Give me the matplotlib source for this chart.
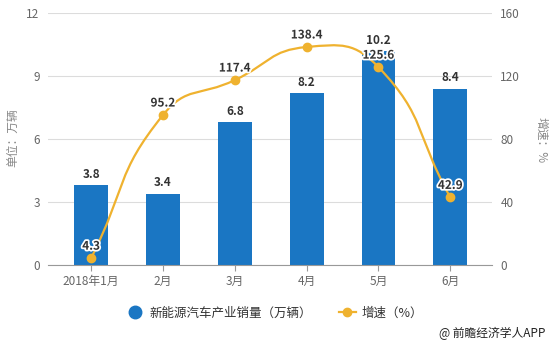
import numpy as np
import matplotlib
matplotlib.use("Agg")
import matplotlib.pyplot as plt
from matplotlib.path import Path
from matplotlib.patches import PathPatch
from matplotlib.lines import Line2D
import matplotlib.patheffects as pe

plt.rcParams['font.family'] = ['Noto Sans CJK SC', 'DejaVu Sans']

months = ["2018年1月", "2月", "3月", "4月", "5月", "6月"]
sales = [3.8, 3.4, 6.8, 8.2, 10.2, 8.4]       # 万辆
growth = [4.3, 95.2, 117.4, 138.4, 125.6, 42.9]  # %

bar_color = "#1a76c3"
line_color = "#efb22f"
text_gray = "#666666"


def smooth_path(ax, xs, ys, smooth=0.5):
    # echarts-like bezier smoothing, done in pixel space
    pts = ax.transData.transform(np.column_stack([xs, ys]))
    n = len(pts)
    cin, cout = [], []
    for i in range(n):
        p = pts[i]
        prev = pts[i - 1] if i > 0 else p
        nxt = pts[i + 1] if i < n - 1 else p
        v = (nxt - prev) * smooth
        d0 = np.hypot(*(p - prev))
        d1 = np.hypot(*(p - nxt))
        s = d0 + d1
        if s > 0:
            d0, d1 = d0 / s, d1 / s
        cin.append(p - v * d0)
        cout.append(p + v * d1)
    verts = [pts[0]]
    codes = [Path.MOVETO]
    for i in range(n - 1):
        verts += [cout[i], cin[i + 1], pts[i + 1]]
        codes += [Path.CURVE4] * 3
    verts = ax.transData.inverted().transform(np.array(verts))
    return Path(verts, codes)


def main():
    fig = plt.figure(figsize=(5.5, 3.44), dpi=100)
    ax = fig.add_axes([48 / 550, 79 / 344, 444 / 550, 252 / 344])
    ax2 = ax.twinx()

    x = np.arange(len(months))
    ax.bar(x, sales, width=0.47, color=bar_color, zorder=2)
    for xi, v in zip(x, sales):
        ax.text(xi, v + 0.2, "%.1f" % v, ha="center", va="bottom",
                fontsize=8.5, fontweight="bold", color="#333333", zorder=5)

    ax.set_xlim(-0.6, 5.58)
    ax.set_ylim(0, 12)
    ax.set_yticks([0, 3, 6, 9, 12])
    ax2.set_ylim(0, 160)
    ax2.set_yticks([0, 40, 80, 120, 160])
    ax.set_xticks(x)
    ax.set_xticklabels(months)

    ax.grid(axis="y", color="#dcdcdc", linewidth=0.8, zorder=0)
    ax.set_axisbelow(True)
    for a in (ax, ax2):
        for s in ["top", "left", "right", "bottom"]:
            a.spines[s].set_visible(False)
    ax.spines["bottom"].set_visible(True)
    ax.spines["bottom"].set_color("#999999")
    ax.tick_params(axis="x", colors=text_gray, labelsize=8.5, length=4, color="#999999")
    ax.tick_params(axis="y", colors=text_gray, labelsize=8.5, length=0, pad=6)
    ax2.tick_params(axis="y", colors=text_gray, labelsize=8.5, length=0, pad=6)

    fig.text(13 / 550, 1 - 138 / 344, "单位：万辆", rotation=90, ha="center", va="center",
             fontsize=8.5, color="#888888")
    fig.text(541 / 550, 1 - 140 / 344, "增速：%", rotation=270, ha="center", va="center",
             fontsize=8.5, color="#888888")

    fig.canvas.draw()
    path = smooth_path(ax2, x, growth)
    ax2.add_patch(PathPatch(path, facecolor="none", edgecolor=line_color, lw=1.6, zorder=3))
    ax2.plot(x, growth, "o", color=line_color, markersize=6, zorder=4)
    for xi, v in zip(x, growth):
        ax2.text(xi, v + 3.5, "%.1f" % v, ha="center", va="bottom", fontsize=8.5,
                 fontweight="bold", color="#333333", zorder=6,
                 path_effects=[pe.withStroke(linewidth=2.5, foreground="white")])

    handles = [
        Line2D([], [], marker="o", linestyle="none", color=bar_color, markersize=9),
        Line2D([], [], marker="o", color=line_color, markersize=6, lw=1.6),
    ]
    fig.legend(handles, ["新能源汽车产业销量（万辆）", "增速（%）"], loc="center",
               bbox_to_anchor=(0.5, 0.09), ncol=2, frameon=False, fontsize=9,
               handlelength=1.3, handletextpad=0.5, columnspacing=2.2,
               labelcolor="#333333")

    fig.text(545 / 550, 1 - 333 / 344, "@ 前瞻经济学人APP", ha="right", va="center",
             fontsize=8.5, color="#222222")

    fig.savefig("out.png", dpi=100)


if __name__ == "__main__":
    main()
